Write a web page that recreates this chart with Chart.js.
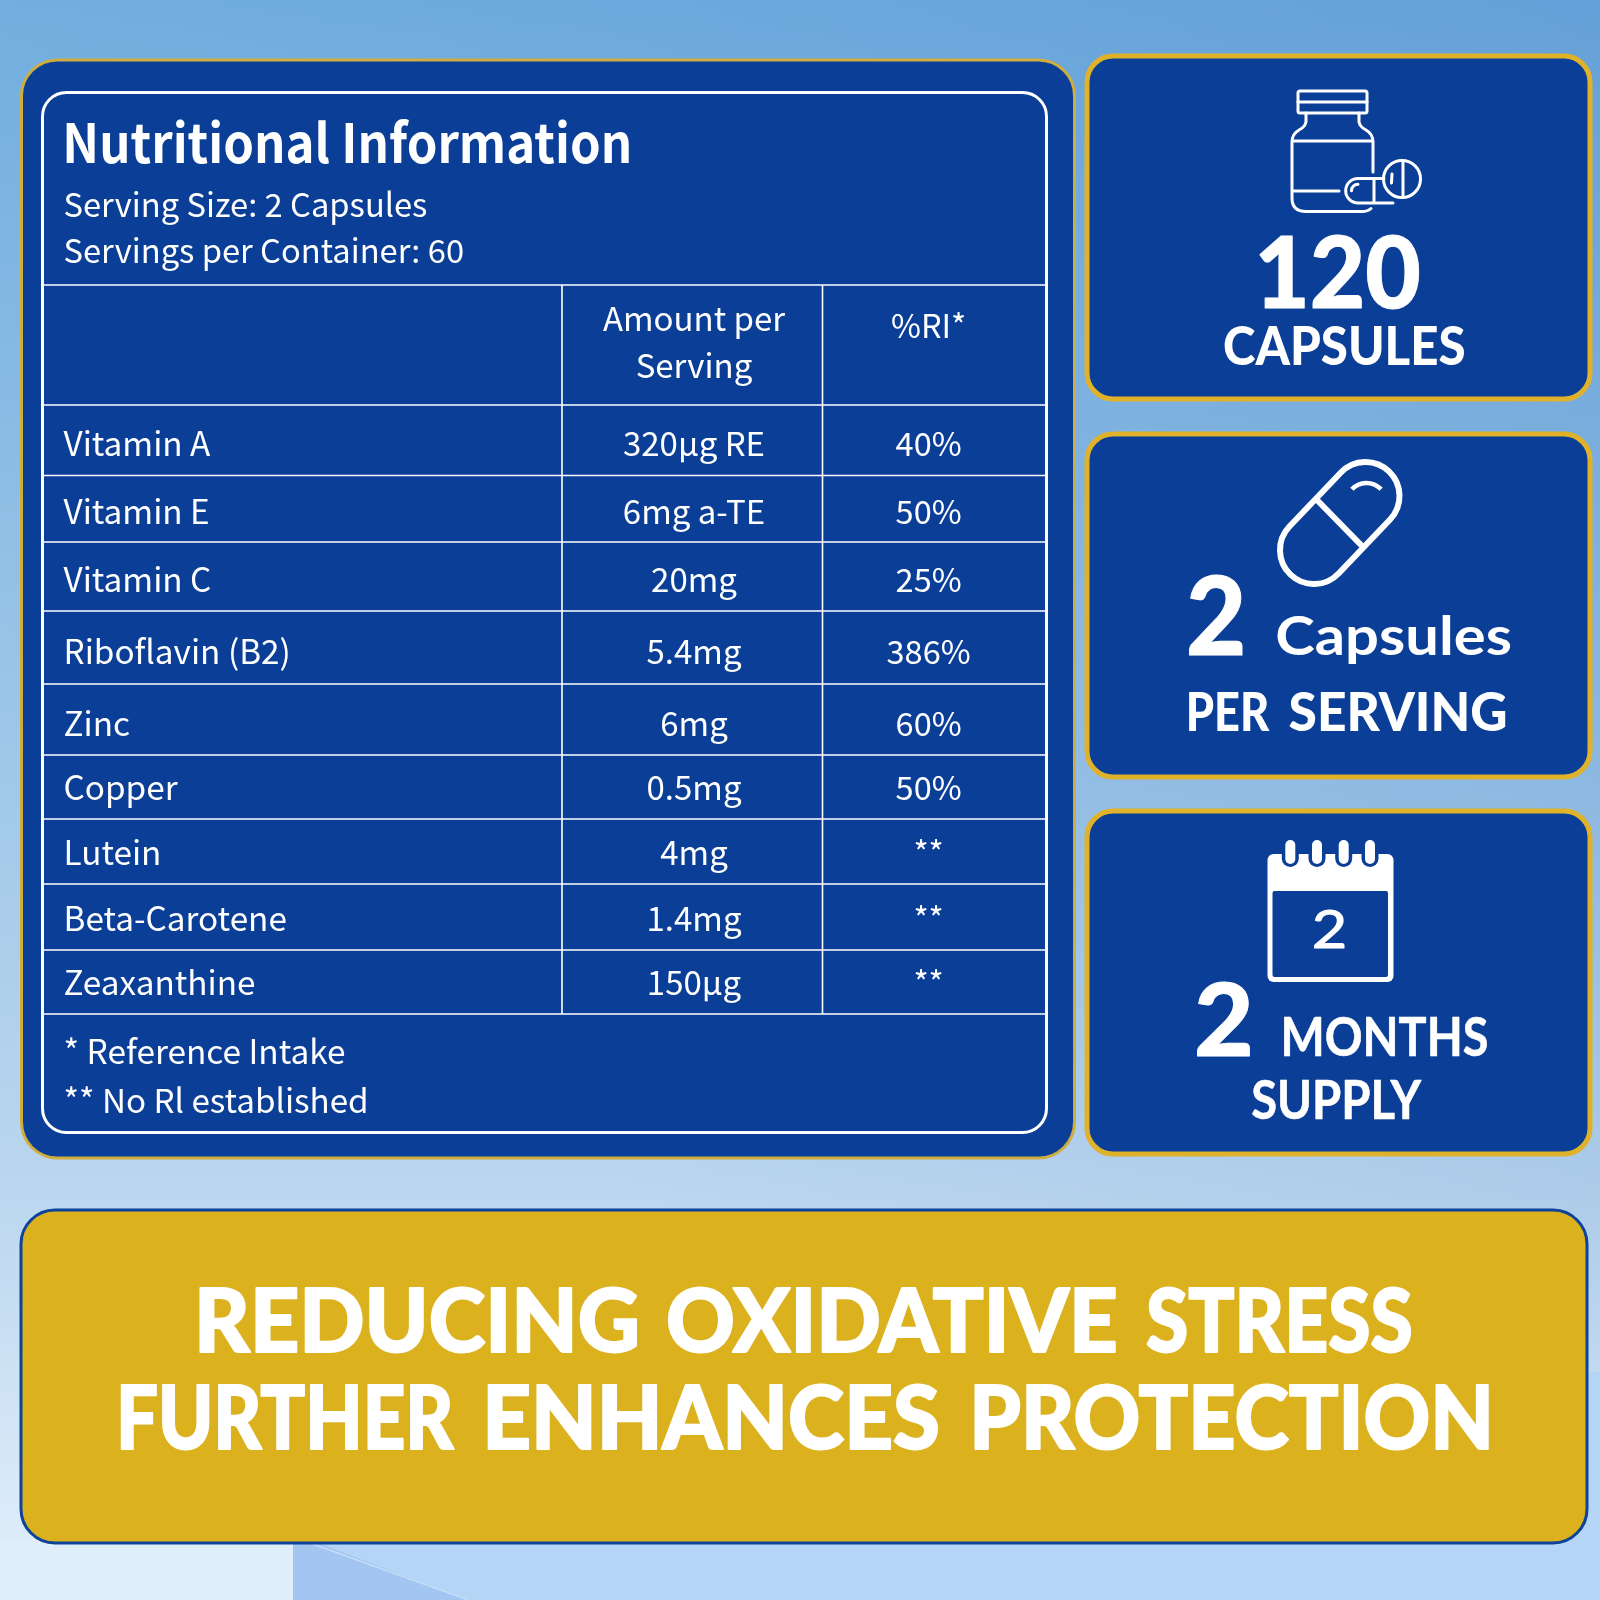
<!DOCTYPE html>
<html><head><meta charset="utf-8">
<style>html,body{margin:0;padding:0;background:#a8cdea}canvas{display:block}</style>
<script src="https://cdn.jsdelivr.net/npm/chart.js@4/dist/chart.umd.min.js"></script>
</head><body>
<canvas id="c" width="1600" height="1600" style="width:1600px;height:1600px"></canvas>
<script>
// ---- data ----
const nutrients = ['Vitamin A','Vitamin E','Vitamin C','Riboflavin (B2)','Zinc','Copper','Lutein','Beta-Carotene','Zeaxanthine'];
const amounts   = ['320µg RE','6mg a-TE','20mg','5.4mg','6mg','0.5mg','4mg','1.4mg','150µg'];
const percents  = ['40%','50%','25%','386%','60%','50%','**','**','**'];
const columns   = ['Nutrient','Amount per Serving','%RI*'];
const amountHeader = ['Amount per','Serving'];
const title = 'Nutritional Information';
const servingLines = ['Serving Size: 2 Capsules','Servings per Container: 60'];
const footnotes = ['* Reference Intake','** No Rl established'];

// ---- layout (pixels, relative to the table area) ----
const rowEdges = [0,70.5,137,206,279,350,414,479,545,609];
const rowBaselines = [51,118.5,187,259,331,395,460,526,590];
const colEdges = [0,518,778.5,1002];
const colAnchors = [19.5,650,884.6];
const colFontSizes = [33.3,33,32.5];

const NAVY='#0a3e97', GOLD='#dfb22a', WHITE='#ffffff';
const BODY='"Noto Sans CJK SC"', HEAD='Lato';

// Category scale with uneven bands
class BandScale extends Chart.CategoryScale {
  getPixelForValue(value){
    const i = typeof value==='number' ? value : this.parse(value);
    const start = this.isHorizontal()? this.left : this.top;
    return start + this.options.anchors[i];
  }
  getValueForPixel(){ return 0; }
}
BandScale.id='band';
BandScale.defaults=Chart.CategoryScale.defaults;
Chart.register(BandScale);

function rr(ctx,x,y,w,h,r){ctx.beginPath();ctx.roundRect(x,y,w,h,r);}
function card(ctx,x,y,w,h,r,fill,stroke,lw){
  rr(ctx,x,y,w,h,r);ctx.fillStyle=fill;ctx.fill();ctx.strokeStyle=stroke;ctx.lineWidth=lw;ctx.stroke();
}
// Draw text stretched so its ink spans x..x2; optional outline thickens the weight
function fit(ctx,str,x,x2,base,font,thicken){
  ctx.save();ctx.font=font;ctx.textAlign='left';ctx.textBaseline='alphabetic';ctx.fillStyle=WHITE;
  const m=ctx.measureText(str);
  const left=m.actualBoundingBoxLeft, w=m.actualBoundingBoxRight+left;
  ctx.translate(x,base);ctx.scale((x2-x)/w,1);ctx.fillText(str,left,0);
  if(thicken){ctx.strokeStyle=WHITE;ctx.lineWidth=thicken;ctx.lineJoin='round';ctx.strokeText(str,left,0);}
  ctx.restore();
}
function plain(ctx,str,x,base,font,align){
  ctx.save();ctx.font=font;ctx.textAlign=align||'left';ctx.textBaseline='alphabetic';ctx.fillStyle=WHITE;
  ctx.fillText(str,x,base);ctx.restore();
}

function drawBackground(ctx){
  let g=ctx.createLinearGradient(0,0,0,1600);
  g.addColorStop(0,'#7cb9e4');g.addColorStop(.5,'#a2c9e9');g.addColorStop(.75,'#bcd7ef');g.addColorStop(1,'#e3f0fb');
  ctx.fillStyle=g;ctx.fillRect(0,0,1600,1600);
  g=ctx.createLinearGradient(1600,0,800,1300);
  g.addColorStop(0,'rgba(50,110,190,.32)');g.addColorStop(1,'rgba(50,110,190,0)');
  ctx.fillStyle=g;ctx.fillRect(0,0,1600,1600);
  // facets below the banner
  ctx.fillStyle='#e0eefa';ctx.fillRect(0,1540,293,60);
  ctx.fillStyle='#b4d5f5';ctx.fillRect(293,1520,1307,80);ctx.fillRect(1570,1372,30,200);
  ctx.beginPath();ctx.moveTo(293,1540);ctx.lineTo(310,1540);ctx.lineTo(468,1600);ctx.lineTo(293,1600);ctx.closePath();
  ctx.fillStyle='#a3c5f1';ctx.fill();
  ctx.beginPath();ctx.moveTo(310,1543);ctx.lineTo(468,1600);ctx.strokeStyle='#c6dcf7';ctx.lineWidth=1.5;ctx.stroke();
}

function bottleIcon(ctx){
  ctx.save();ctx.strokeStyle=WHITE;ctx.lineWidth=3;ctx.lineCap='round';ctx.lineJoin='round';
  rr(ctx,1298,91,69,22,2);ctx.stroke();
  ctx.beginPath();ctx.moveTo(1298,102);ctx.lineTo(1367,102);ctx.stroke();
  ctx.beginPath();
  ctx.moveTo(1306,113);ctx.lineTo(1306,122);ctx.quadraticCurveTo(1305,127,1299,130);ctx.quadraticCurveTo(1292,134,1292,142);
  ctx.lineTo(1292,198);ctx.quadraticCurveTo(1292,211.5,1306,211.5);ctx.lineTo(1362,211.5);ctx.quadraticCurveTo(1368,211.5,1371,208.5);
  ctx.moveTo(1359,113);ctx.lineTo(1359,122);ctx.quadraticCurveTo(1360,127,1366,130);ctx.quadraticCurveTo(1373,134,1373,142);ctx.lineTo(1373,172);
  ctx.moveTo(1292,141);ctx.lineTo(1373,141);
  ctx.moveTo(1292,191);ctx.lineTo(1339,191);
  ctx.stroke();
  // capsule
  ctx.beginPath();
  ctx.moveTo(1393,203);ctx.lineTo(1358,203);ctx.arc(1358,190.7,12.3,Math.PI/2,Math.PI*1.5);ctx.lineTo(1384,178.5);
  ctx.moveTo(1374,178.5);ctx.lineTo(1374,203);ctx.stroke();
  ctx.beginPath();ctx.arc(1358,190.7,6.5,Math.PI,Math.PI*1.5);ctx.stroke();
  // tablet
  ctx.beginPath();ctx.arc(1402,179,18.5,0,Math.PI*2);ctx.stroke();
  ctx.beginPath();ctx.moveTo(1403,161);ctx.lineTo(1403,197);ctx.stroke();
  ctx.beginPath();ctx.moveTo(1392,174);ctx.lineTo(1391.5,183);ctx.stroke();
  ctx.restore();
}
function pillIcon(ctx){
  ctx.save();ctx.strokeStyle=WHITE;ctx.lineWidth=6;ctx.lineCap='round';
  const ax=1365.5,ay=496,bx=1314,by=550,r=34;
  const ang=Math.atan2(by-ay,bx-ax);
  ctx.beginPath();
  ctx.arc(ax,ay,r,ang+Math.PI/2,ang-Math.PI/2,false);
  ctx.arc(bx,by,r,ang-Math.PI/2,ang+Math.PI/2,false);
  ctx.closePath();ctx.stroke();
  ctx.beginPath();ctx.moveTo(1318,501);ctx.lineTo(1361,545);ctx.stroke();
  ctx.lineWidth=4.5;ctx.lineCap='butt';
  ctx.beginPath();ctx.arc(1366.5,503,20,-Math.PI*0.76,-Math.PI*0.24);ctx.stroke();
  ctx.restore();
}
function calendarIcon(ctx){
  ctx.save();
  rr(ctx,1267.5,854,126,128,6);ctx.fillStyle=WHITE;ctx.fill();
  rr(ctx,1272.5,891,115.5,86,2);ctx.fillStyle=NAVY;ctx.fill();
  [1290.3,1317,1343.7,1370].forEach(x=>{
    rr(ctx,x-8.5,845,17,22,8.5);ctx.fillStyle=NAVY;ctx.fill();
    rr(ctx,x-5,840,10,24,5);ctx.fillStyle=WHITE;ctx.fill();
  });
  ctx.restore();
  fit(ctx,'2',1314,1344,948,'400 53px '+HEAD,1);
}

const infographic={
  id:'infographic',
  beforeDraw(chart){
    const ctx=chart.ctx, a=chart.chartArea;
    drawBackground(ctx);
    card(ctx,21.5,60,1053,1098,36,NAVY,'#cfae3f',3);
    rr(ctx,42.5,92.5,1004,1040,24);ctx.strokeStyle=WHITE;ctx.lineWidth=3;ctx.stroke();
    // table rules
    ctx.strokeStyle=WHITE;ctx.lineWidth=1.6;
    ctx.beginPath();ctx.moveTo(a.left,285);ctx.lineTo(a.right,285);
    rowEdges.forEach(e=>{ctx.moveTo(a.left,a.top+e);ctx.lineTo(a.right,a.top+e);});
    colEdges.slice(1,3).forEach(e=>{ctx.moveTo(a.left+e,285);ctx.lineTo(a.left+e,a.bottom);});
    ctx.stroke();
    // heading block
    fit(ctx,title,66,629,163,'700 54px '+BODY);
    plain(ctx,servingLines[0],63.5,217,'400 32.7px '+BODY);
    plain(ctx,servingLines[1],63.5,263,'400 32.7px '+BODY);
    plain(ctx,amountHeader[0],a.left+colAnchors[1],331,'400 33px '+BODY,'center');
    plain(ctx,amountHeader[1],a.left+colAnchors[1],378,'400 33px '+BODY,'center');
    plain(ctx,columns[2],a.left+colAnchors[2],338,'400 32.5px '+BODY,'center');
    plain(ctx,footnotes[0],63.5,1064,'400 33.4px '+BODY);
    plain(ctx,footnotes[1],63.5,1113,'400 33.2px '+BODY);
    // side cards
    [[1087,56,503,343],[1087,434,503,343],[1087,811,503,343]].forEach(r=>card(ctx,r[0],r[1],r[2],r[3],26,NAVY,GOLD,5));
    bottleIcon(ctx);pillIcon(ctx);calendarIcon(ctx);
    fit(ctx,'120',1259,1419,308,'900 100px '+HEAD,1);
    fit(ctx,'CAPSULES',1224,1464,365,'900 54px '+HEAD);
    fit(ctx,'2',1189,1243,655,'900 108px '+HEAD,1);
    fit(ctx,'Capsules',1277.5,1510,655,'700 54px '+HEAD);
    fit(ctx,'PER',1189,1270,730.5,'900 54px '+HEAD);
    fit(ctx,'SERVING',1289.5,1505.5,730.5,'900 54px '+HEAD);
    fit(ctx,'2',1197,1250,1056,'900 101px '+HEAD,1);
    fit(ctx,'MONTHS',1284,1487,1056,'700 54px '+HEAD,.6);
    fit(ctx,'SUPPLY',1252,1422,1118.5,'700 54px '+HEAD,.6);
    // banner
    card(ctx,21,1210,1566,333,34,'#dbb11e','#0d4399',3);
    const big='900 87px '+HEAD;
    fit(ctx,'REDUCING',200,637,1351.5,big,2);
    fit(ctx,'OXIDATIVE',668,1115,1351.5,big,2);
    fit(ctx,'STRESS',1147,1411,1351.5,big,2);
    fit(ctx,'FURTHER',121,454,1448.5,big,2);
    fit(ctx,'ENHANCES',488,938,1448.5,big,2);
    fit(ctx,'PROTECTION',975,1488,1448.5,big,2);
  }
};
const cellText={
  id:'cellText',
  afterDatasetsDraw(chart){
    const ctx=chart.ctx;
    chart.data.datasets.forEach((ds,di)=>{
      chart.getDatasetMeta(di).data.forEach((pt,i)=>{
        plain(ctx,ds.data[i].text,pt.x,pt.y,'400 '+colFontSizes[di]+'px '+BODY,ds.align);
      });
    });
  }
};
const cells=(col,values)=>values.map((v,i)=>({x:col,y:nutrients[i],text:v}));
new Chart(document.getElementById('c'),{
  type:'line',
  data:{
    labels:columns,
    datasets:[
      {label:columns[0],data:cells(columns[0],nutrients),align:'left'},
      {label:columns[1],data:cells(columns[1],amounts),align:'center'},
      {label:columns[2],data:cells(columns[2],percents),align:'center'}
    ].map(d=>Object.assign(d,{showLine:false,pointRadius:0,pointHoverRadius:0}))
  },
  options:{
    responsive:false,animation:false,devicePixelRatio:1,
    layout:{padding:{left:44,top:405,right:554,bottom:586}},
    plugins:{legend:{display:false},tooltip:{enabled:false},title:{display:false}},
    events:[],
    scales:{
      x:{type:'band',display:false,labels:columns,anchors:colAnchors},
      y:{type:'band',display:false,labels:nutrients,anchors:rowBaselines}
    }
  },
  plugins:[infographic,cellText]
});
</script>
</body></html>
